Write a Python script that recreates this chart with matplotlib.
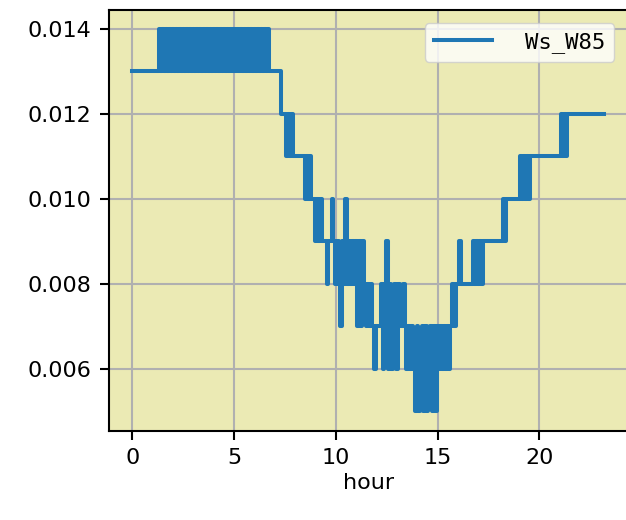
import numpy as np
import matplotlib
matplotlib.use("Agg")
import matplotlib.pyplot as plt

# Ws_W85 readings (units of 0.001), sampled every 5 minutes from hour 0
ws_w85_milli = [
    13, 13, 13, 13, 13, 13, 13, 13, 13, 13, 13, 13,
    13, 13, 13, 13, 14, 13, 14, 13, 14, 13, 14, 13,
    14, 13, 14, 13, 14, 13, 14, 13, 14, 13, 14, 13,
    14, 13, 14, 13, 14, 13, 14, 13, 14, 13, 14, 13,
    14, 13, 14, 13, 14, 13, 14, 13, 14, 13, 14, 13,
    14, 13, 14, 13, 14, 13, 14, 13, 14, 13, 14, 13,
    14, 13, 14, 13, 14, 13, 14, 13, 14, 13, 13, 13,
    13, 13, 13, 13, 12, 12, 12, 11, 12, 11, 12, 11,
    11, 11, 11, 11, 11, 11, 10, 11, 10, 11, 10, 10,
    9, 10, 9, 10, 9, 9, 9, 8, 9, 9, 10, 9,
    8, 9, 8, 7, 9, 8, 10, 8, 9, 8, 9, 8,
    9, 7, 9, 7, 9, 8, 7, 8, 7, 8, 7, 6,
    7, 7, 7, 8, 6, 8, 9, 6, 8, 6, 7, 8,
    6, 8, 7, 7, 8, 7, 6, 7, 6, 7, 6, 5,
    7, 5, 6, 7, 5, 7, 5, 6, 7, 5, 7, 5,
    7, 6, 7, 6, 7, 6, 7, 6, 7, 8, 7, 8,
    8, 9, 8, 8, 8, 8, 8, 8, 8, 9, 8, 9,
    8, 9, 8, 9, 9, 9, 9, 9, 9, 9, 9, 9,
    9, 9, 9, 10, 9, 10, 10, 10, 10, 10, 10, 10,
    10, 11, 10, 11, 10, 11, 10, 11, 11, 11, 11, 11,
    11, 11, 11, 11, 11, 11, 11, 11, 11, 11, 11, 11,
    11, 12, 11, 12, 11, 12, 12, 12, 12, 12, 12, 12,
    12, 12, 12, 12, 12, 12, 12, 12, 12, 12, 12, 12,
    12, 12, 12,
]
sample_minutes = 5
series_label = "Ws_W85"
x_label = "hour"

values = np.array(ws_w85_milli) * 0.001
hours = np.arange(len(values)) * sample_minutes / 60.0

fig = plt.figure(figsize=(6.26, 5.2), dpi=100)
ax = fig.add_axes([0.174, 0.172, 0.8284, 0.809])
ax.set_facecolor("#EBEAB4")
ax.plot(hours, values, color="#1f77b4", lw=2.9, label=series_label, zorder=3,
        drawstyle="steps-mid")

ax.grid(True, color="#b0b0b0", lw=1.5, zorder=0)
ax.set_axisbelow(True)
for s in ax.spines.values():
    s.set_linewidth(1.5)

ax.set_xticks([0, 5, 10, 15, 20])
ax.set_yticks([0.006, 0.008, 0.010, 0.012, 0.014])
ax.set_yticklabels(["0.006", "0.008", "0.010", "0.012", "0.014"])
ax.tick_params(axis="both", length=6.5, width=1.5, pad=6, labelsize=16)
for lab in ax.get_xticklabels() + ax.get_yticklabels():
    lab.set_family("DejaVu Sans")
ax.set_xlabel(x_label, fontsize=16, family="DejaVu Sans", labelpad=4)

leg = ax.legend(loc="upper right", prop={"family": "DejaVu Sans Mono", "size": 16},
                handlelength=2.6, handletextpad=1.5, borderaxespad=0.6,
                fancybox=True, framealpha=0.8)

fig.savefig("out.png", dpi=100)
